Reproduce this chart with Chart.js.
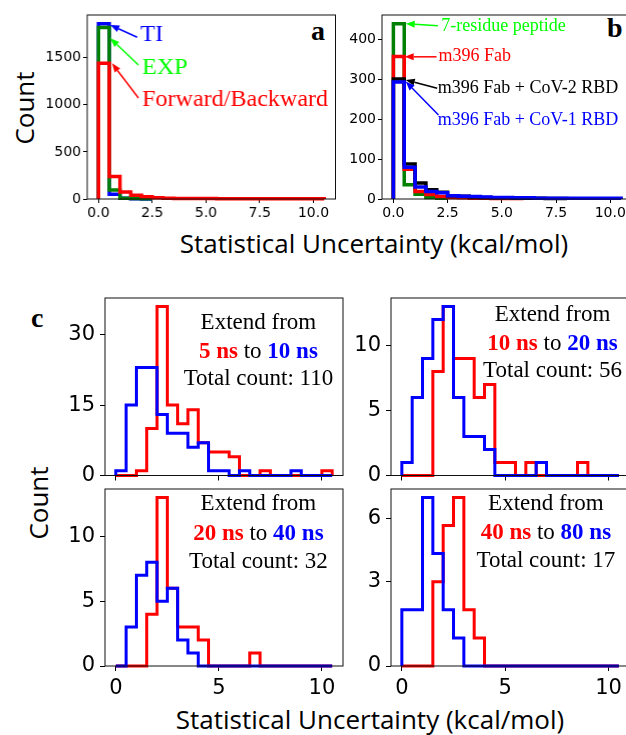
<!DOCTYPE html>
<html>
<head>
<meta charset="utf-8">
<script src="https://cdn.jsdelivr.net/npm/chart.js@4.4.1/dist/chart.umd.min.js"></script>
<style>
  html, body { margin: 0; padding: 0; background: #fff; }
  body { width: 626px; height: 735px; position: relative; overflow: hidden; }
  .panel { position: absolute; }
  .axlab { position: absolute; font-family: "Open Sans"; font-size: 26px; color: #000; white-space: nowrap; transform: translate(-50%, -50%); }
  .axlab.rot { transform: translate(-50%, -50%) rotate(-90deg); }
  .tag { position: absolute; font-family: "Liberation Serif"; font-weight: bold; font-size: 28px; color: #000; line-height: 1; }
</style>
</head>
<body>
<div class="axlab rot" style="left:24px;top:108px">Count</div>
<div class="axlab" style="left:374px;top:243px">Statistical Uncertainty (kcal/mol)</div>
<div class="axlab rot" style="left:38px;top:503px">Count</div>
<div class="axlab" style="left:370px;top:719px">Statistical Uncertainty (kcal/mol)</div>
<div class="tag" style="left:311px;top:17px">a</div>
<div class="tag" style="left:607px;top:14px">b</div>
<div class="tag" style="left:31px;top:304px">c</div>

<script>
  // histogrammes : cases de 0.5 kcal/mol a partir de 0
  const BIN_W = 0.5;
  const X_MIN = -0.525, X_MAX = 11.025;

  // panell a
  const aTI  = [1860, 50, 8, 3, 1];
  const aEXP = [1820, 95, 7, 5, 3];
  const aFB  = [1440, 240, 75, 40, 25, 12, 8, 6, 5, 4, 4, 3, 3, 3, 2, 2, 2, 2, 2, 2, 2];

  // panell b
  const bPeptide = [440, 36, 12, 4, 2];
  const bFab     = [358, 75, 19, 11, 6, 4, 3, 2, 2, 1, 1, 1];
  const bCoV2    = [301, 88, 40, 23, 17, 8, 7, 5, 4, 3, 3, 2, 2, 2, 1, 1];
  const bCoV1    = [294, 80, 30, 19, 16, 8, 7, 6, 5, 4, 4, 3, 3, 2, 2, 2, 2, 2, 2, 2, 2];

  // panell c (vermell = temps curt, blau = temps llarg)
  const c5red   = [0, 0, 1, 10, 36, 15, 11, 14, 7, 5, 5, 4, 0, 0, 1, 0, 0, 0, 0, 0, 1];
  const c10blue = [1, 15, 23, 23, 13, 9, 9, 6, 7, 1, 1, 0, 1, 0, 0, 0, 0, 1, 0, 0, 0];
  const c10red  = [0, 0, 0, 8, 13, 9, 9, 6, 7, 1, 1, 0, 1, 0, 0, 0, 0, 1, 0, 0, 0];
  const c20blue = [1, 6, 9, 12, 13, 6, 3, 3, 2, 0, 0, 0, 0, 1, 0, 0, 0, 0, 0, 0, 0];
  const c20red  = [0, 0, 0, 4, 13, 6, 3, 3, 2, 0, 0, 0, 0, 1, 0, 0, 0, 0, 0, 0, 0];
  const c40blue = [0, 3, 7, 8, 5, 6, 2, 1, 0, 0, 0, 0, 0, 0, 0, 0, 0, 0, 0, 0, 0];
  const c40red  = [0, 0, 0, 3, 5, 6, 2, 1, 0, 0, 0, 0, 0, 0, 0, 0, 0, 0, 0, 0, 0];
  const c80blue = [2, 2, 6, 4, 2, 1, 0, 0, 0, 0, 0, 0, 0, 0, 0, 0, 0, 0, 0, 0, 0];

  // ticks
  const abXTicks = [0, 2.5, 5, 7.5, 10];
  const abXLabels = ["0.0", "2.5", "5.0", "7.5", "10.0"];
  const cXTicks = [0, 5, 10];
  const cXLabels = ["0", "5", "10"];
  const aYTicks = [0, 500, 1000, 1500];
  const bYTicks = [0, 100, 200, 300, 400];
  const c1YTicks = [0, 15, 30];
  const c2YTicks = [0, 5, 10];
  const c3YTicks = [0, 5, 10];
  const c4YTicks = [0, 3, 5.24];      // a l'original l'etiqueta "6" no cau sobre el 6
  const c4YLabels = ["0", "3", "6"];

  const RED = "#ff0000", BLUE = "#0000ff", DKGREEN = "#008000", LIME = "#00ff00", BLACK = "#000000";
  const SERIF = '"Liberation Serif"';

  function stepPoints(counts) {
    const pts = [{ x: 0, y: 0 }];
    counts.forEach((c, i) => {
      pts.push({ x: i * BIN_W, y: c });
      pts.push({ x: (i + 1) * BIN_W, y: c });
    });
    pts.push({ x: counts.length * BIN_W, y: 0 });
    return pts;
  }

  function drawArrow(ctx, x0, y0, x1, y1, color) {
    const ang = Math.atan2(y1 - y0, x1 - x0);
    const hl = 9, hw = 3.5;
    const bx = x1 - hl * Math.cos(ang), by = y1 - hl * Math.sin(ang);
    ctx.strokeStyle = color; ctx.fillStyle = color; ctx.lineWidth = 1.5;
    ctx.beginPath(); ctx.moveTo(x0, y0); ctx.lineTo(bx, by); ctx.stroke();
    ctx.beginPath();
    ctx.moveTo(x1, y1);
    ctx.lineTo(bx + hw * Math.sin(ang), by - hw * Math.cos(ang));
    ctx.lineTo(bx - hw * Math.sin(ang), by + hw * Math.cos(ang));
    ctx.closePath(); ctx.fill();
  }

  const overlay = {
    id: "overlay",
    afterDatasetsDraw(chart, args, opts) {
      const { ctx, chartArea: a } = chart;
      const sx = chart.scales.x, sy = chart.scales.y;
      ctx.save();
      ctx.strokeStyle = "#111"; ctx.lineWidth = 1;
      ctx.strokeRect(a.left, a.top, a.right - a.left, a.bottom - a.top);

      (opts.arrows || []).forEach(ar => {
        drawArrow(ctx, sx.getPixelForValue(ar.from[0]), sy.getPixelForValue(ar.from[1]),
          sx.getPixelForValue(ar.to[0]), sy.getPixelForValue(ar.to[1]), ar.color);
      });

      ctx.textBaseline = "middle";
      (opts.texts || []).forEach(t => {
        ctx.font = t.font; ctx.fillStyle = t.color; ctx.textAlign = "left";
        ctx.fillText(t.text, sx.getPixelForValue(t.x), sy.getPixelForValue(t.y));
      });

      const blk = opts.block;
      if (blk) {
        const cx = sx.getPixelForValue(blk.x);
        blk.lines.forEach((runs, li) => {
          const fonts = runs.map(r => (r.bold ? "bold " : "") + blk.size + "px " + SERIF);
          let total = 0;
          runs.forEach((r, k) => { ctx.font = fonts[k]; total += ctx.measureText(r.t).width; });
          let px = cx - total / 2;
          const py = a.top + blk.dy[li];
          ctx.textAlign = "left";
          runs.forEach((r, k) => {
            ctx.font = fonts[k]; ctx.fillStyle = r.c || BLACK;
            ctx.fillText(r.t, px, py);
            px += ctx.measureText(r.t).width;
          });
        });
      }
      ctx.restore();
    }
  };

  const AXW = 62, AXH = 34, PAD = 4;

  function makePanel(box, p) {
    const el = document.createElement("div");
    el.className = "panel";
    el.style.left = (box.l - AXW) + "px";
    el.style.top = (box.t - PAD) + "px";
    el.style.width = (box.r - box.l + AXW + PAD) + "px";
    el.style.height = (box.b - box.t + PAD + AXH) + "px";
    const cv = document.createElement("canvas");
    el.appendChild(cv);
    document.body.appendChild(el);

    const yMax = Math.max(...p.series.map(s => Math.max(...s.counts))) * 1.05;
    const yLabels = p.yLabels || p.yTicks.map(String);
    const tickFont = { family: "DejaVu Sans", size: p.tickSize };

    return new Chart(cv, {
      type: "line",
      data: {
        datasets: p.series.map(s => ({
          data: stepPoints(s.counts),
          borderColor: s.color,
          borderWidth: p.lw,
          borderJoinStyle: "miter",
          pointRadius: 0,
          tension: 0,
          fill: false,
          clip: false,
          order: s.order
        }))
      },
      options: {
        responsive: true,
        maintainAspectRatio: false,
        animation: false,
        events: [],
        layout: { padding: { top: PAD, right: PAD, left: 0, bottom: 0 } },
        plugins: { legend: { display: false }, tooltip: { enabled: false }, overlay: p.notes || {} },
        scales: {
          x: {
            type: "linear", min: X_MIN, max: X_MAX,
            afterBuildTicks: s => { s.ticks = p.xTicks.map(v => ({ value: v })); },
            afterFit: s => { s.height = AXH; s.paddingLeft = 0; s.paddingRight = 0; },
            ticks: {
              autoSkip: false, maxRotation: 0, color: "#000", font: tickFont, padding: p.tickPad,
              callback: (v, i) => p.showX ? p.xLabels[i] : ""
            },
            grid: { drawOnChartArea: false, drawTicks: true, tickLength: p.tickLen, color: "#000" },
            border: { display: false }
          },
          y: {
            type: "linear", min: 0, max: yMax,
            afterBuildTicks: s => { s.ticks = p.yTicks.map(v => ({ value: v })); },
            afterFit: s => { s.width = AXW; s.paddingTop = 0; s.paddingBottom = 0; },
            ticks: { autoSkip: false, color: "#000", font: tickFont, padding: p.tickPad, callback: (v, i) => yLabels[i] },
            grid: { drawOnChartArea: false, drawTicks: true, tickLength: p.tickLen, color: "#000" },
            border: { display: false }
          }
        }
      },
      plugins: [overlay]
    });
  }

  const abCommon = { xTicks: abXTicks, xLabels: abXLabels, showX: true, tickSize: 14, tickLen: 4, tickPad: 2, lw: 3.5 };
  const cCommon = { xTicks: cXTicks, xLabels: cXLabels, tickSize: 21, tickLen: 5, tickPad: 5, lw: 3 };
  const FONT_AB = "24px " + SERIF, FONT_B = "18px " + SERIF;

  // a
  makePanel({ l: 87, t: 15, r: 334.5, b: 199 }, Object.assign({}, abCommon, {
    yTicks: aYTicks,
    series: [
      { counts: aTI, color: BLUE, order: 2 },
      { counts: aEXP, color: DKGREEN, order: 1 },
      { counts: aFB, color: RED, order: 0 }
    ],
    notes: {
      arrows: [
        { from: [1.80, 1717], to: [0.55, 1847], color: BLUE },
        { from: [1.86, 1422], to: [0.55, 1706], color: LIME },
        { from: [1.86, 1072], to: [0.63, 1440], color: RED }
      ],
      texts: [
        { x: 1.95, y: 1741, text: "TI", color: BLUE, font: FONT_AB },
        { x: 2.03, y: 1391, text: "EXP", color: LIME, font: FONT_AB },
        { x: 2.03, y: 1058, text: "Forward/Backward", color: RED, font: FONT_AB }
      ]
    }
  }));

  // b
  makePanel({ l: 381.5, t: 15, r: 632, b: 199 }, Object.assign({}, abCommon, {
    yTicks: bYTicks,
    series: [
      { counts: bPeptide, color: DKGREEN, order: 3 },
      { counts: bFab, color: RED, order: 2 },
      { counts: bCoV2, color: BLACK, order: 1 },
      { counts: bCoV1, color: BLUE, order: 0 }
    ],
    notes: {
      arrows: [
        { from: [2.05, 435], to: [0.57, 440], color: LIME },
        { from: [1.99, 357], to: [0.52, 357], color: RED },
        { from: [2.02, 278], to: [0.57, 299], color: BLACK },
        { from: [2.08, 211], to: [0.57, 295], color: BLUE }
      ],
      texts: [
        { x: 2.21, y: 433, text: "7-residue peptide", color: LIME, font: FONT_B },
        { x: 2.08, y: 359, text: "m396 Fab", color: RED, font: FONT_B },
        { x: 2.05, y: 278, text: "m396 Fab + CoV-2 RBD", color: BLACK, font: FONT_B },
        { x: 2.04, y: 197, text: "m396 Fab + CoV-1 RBD", color: BLUE, font: FONT_B }
      ]
    }
  }));

  function extendBlock(x, dy, from, to, total) {
    return {
      block: {
        x, dy, size: 23,
        lines: [
          [{ t: "Extend from" }],
          [{ t: from, c: RED, bold: true }, { t: " to " }, { t: to, c: BLUE, bold: true }],
          [{ t: "Total count: " + total }]
        ]
      }
    };
  }

  // c
  makePanel({ l: 105, t: 297.5, r: 343, b: 475 }, Object.assign({}, cCommon, {
    showX: false, yTicks: c1YTicks,
    series: [{ counts: c5red, color: RED, order: 1 }, { counts: c10blue, color: BLUE, order: 0 }],
    notes: extendBlock(6.92, [24.5, 54.2, 80.5], "5 ns", "10 ns", 110)
  }));
  makePanel({ l: 390.7, t: 297.5, r: 629.4, b: 475 }, Object.assign({}, cCommon, {
    showX: false, yTicks: c2YTicks,
    series: [{ counts: c10red, color: RED, order: 1 }, { counts: c20blue, color: BLUE, order: 0 }],
    notes: extendBlock(7.29, [16.5, 45.8, 72.5], "10 ns", "20 ns", 56)
  }));
  makePanel({ l: 105, t: 489, r: 343, b: 666 }, Object.assign({}, cCommon, {
    showX: true, yTicks: c3YTicks,
    series: [{ counts: c20red, color: RED, order: 1 }, { counts: c40blue, color: BLUE, order: 0 }],
    notes: extendBlock(6.92, [15, 45, 72.7], "20 ns", "40 ns", 32)
  }));
  makePanel({ l: 390.7, t: 489, r: 629.4, b: 666 }, Object.assign({}, cCommon, {
    showX: true, yTicks: c4YTicks, yLabels: c4YLabels,
    series: [{ counts: c40red, color: RED, order: 1 }, { counts: c80blue, color: BLUE, order: 0 }],
    notes: extendBlock(6.97, [15, 44, 71.7], "40 ns", "80 ns", 17)
  }));
</script>
</body>
</html>
